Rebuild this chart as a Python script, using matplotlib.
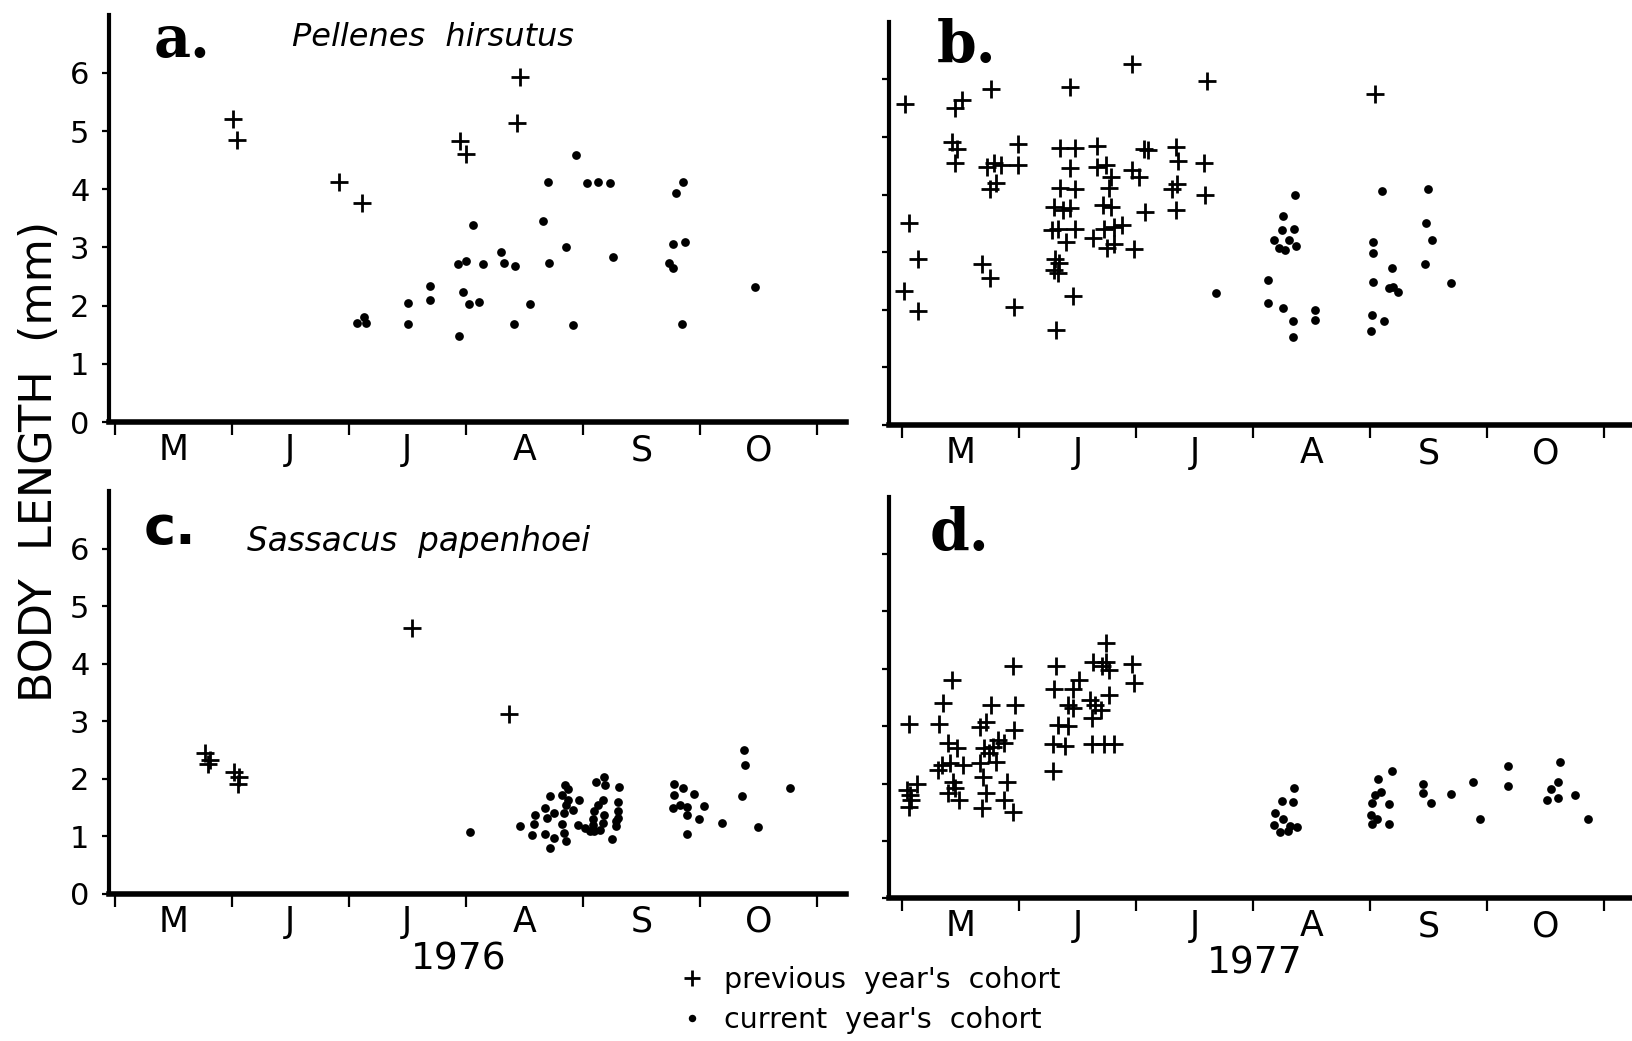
import matplotlib
matplotlib.use('Agg')
import matplotlib.pyplot as plt

# ---------------- data (x = months after 1 May; y = body length, mm) ----------------
months = ['M', 'J', 'J', 'A', 'S', 'O']
years = ['1976', '1977']
species = ['Pellenes  hirsutus', 'Sassacus  papenhoei']
panel_letters = ['a.', 'b.', 'c.', 'd.']
legend_labels = ["previous  year's  cohort", "current  year's  cohort"]

# a. Pellenes hirsutus 1976
a_prev_x = [1.01, 1.04, 1.92, 2.11, 2.95, 3.00, 3.46, 3.44]
a_prev_y = [5.20, 4.84, 4.12, 3.76, 4.83, 4.61, 5.92, 5.14]
a_curr_x = [2.07, 2.13, 2.15, 2.51, 2.51, 2.69, 2.69, 2.94, 2.93, 3.00, 2.98, 3.03, 3.11,
            3.06, 3.15, 3.30, 3.33, 3.42, 3.41, 3.55, 3.66, 3.70, 3.71, 3.86, 3.94, 3.92,
            4.04, 4.13, 4.23, 4.26, 4.80, 4.86, 4.77, 4.87, 4.74, 4.77, 4.85, 5.47]
a_curr_y = [1.70, 1.81, 1.70, 2.04, 1.69, 2.34, 2.09, 1.47, 2.72, 2.77, 2.23, 2.02, 2.07,
            3.39, 2.72, 2.92, 2.74, 2.68, 1.68, 2.02, 3.45, 4.12, 2.74, 3.01, 4.59, 1.66,
            4.10, 4.12, 4.10, 2.84, 3.94, 4.12, 3.06, 3.09, 2.74, 2.64, 1.69, 2.32]

# b. Pellenes hirsutus 1977
b_prev_x = [0.03, 0.06, 0.14, 0.02, 0.14, 0.45, 0.51, 0.43, 0.47, 0.45, 0.76, 0.73, 0.79,
            0.85, 0.75, 0.80, 0.99, 0.99, 0.68, 0.75, 0.96, 1.44, 1.35, 1.48, 1.44, 1.35,
            1.48, 1.30, 1.38, 1.44, 1.33, 1.28, 1.48, 1.40, 1.31, 1.34, 1.30, 1.33, 1.46,
            1.32, 1.67, 1.67, 1.74, 1.79, 1.77, 1.72, 1.79, 1.73, 1.81, 1.88, 1.63, 1.75,
            1.81, 1.97, 2.07, 2.10, 1.97, 2.03, 2.08, 1.98, 2.61, 2.34, 2.36, 2.35, 2.31,
            2.34, 2.58, 2.59, 4.04]
b_prev_y = [5.58, 3.51, 2.88, 2.32, 1.98, 5.50, 5.65, 4.92, 4.80, 4.54, 5.84, 4.48, 4.54,
            4.51, 4.09, 4.20, 4.88, 4.51, 2.79, 2.55, 2.05, 5.86, 4.81, 4.81, 4.46, 4.12,
            4.09, 3.79, 3.73, 3.76, 3.41, 3.39, 3.40, 3.17, 2.89, 2.81, 2.69, 2.64, 2.24,
            1.65, 4.85, 4.48, 4.51, 4.31, 4.11, 3.82, 3.79, 3.41, 3.44, 3.47, 3.25, 3.07,
            3.15, 6.26, 4.80, 4.77, 4.43, 4.31, 3.70, 3.05, 5.97, 4.83, 4.59, 4.18, 4.09,
            3.74, 4.54, 3.99, 5.74]
b_curr_x = [2.68, 3.36, 3.26, 3.25, 3.35, 3.18, 3.31, 3.22, 3.27, 3.37, 3.13, 3.13, 3.26,
            3.34, 3.34, 3.53, 3.53, 4.10, 4.03, 4.03, 4.03, 4.19, 4.20, 4.16, 4.24, 4.02,
            4.12, 4.01, 4.50, 4.48, 4.53, 4.47, 4.69]
b_curr_y = [2.30, 3.99, 3.63, 3.39, 3.40, 3.22, 3.22, 3.07, 3.03, 3.10, 2.51, 2.11, 2.03,
            1.81, 1.53, 2.00, 1.83, 4.07, 3.17, 2.99, 2.49, 2.73, 2.40, 2.37, 2.31, 1.91,
            1.81, 1.63, 4.09, 3.51, 3.22, 2.80, 2.46]

# c. Sassacus papenhoei 1976
c_prev_x = [0.77, 0.81, 0.80, 1.02, 1.06, 1.05, 2.54, 3.37]
c_prev_y = [2.45, 2.33, 2.26, 2.11, 2.03, 1.91, 4.62, 3.13]
c_curr_x = [3.04, 3.46, 3.57, 3.59, 3.58, 3.68, 3.69, 3.68, 3.72, 3.75, 3.72, 3.75, 3.82,
            3.84, 3.86, 3.84, 3.82, 3.85, 3.87, 3.86, 3.92, 3.96, 3.97, 3.87, 4.02, 4.06,
            4.10, 4.09, 4.09, 4.10, 4.13, 4.11, 4.18, 4.17, 4.18, 4.17, 4.15, 4.19, 4.25,
            4.28, 4.30, 4.30, 4.30, 4.31, 4.28, 4.78, 4.86, 4.78, 4.95, 4.77, 4.83, 4.89,
            5.04, 4.89, 4.99, 4.89, 5.19, 5.38, 5.39, 5.36, 5.50, 5.77]
c_curr_y = [1.07, 1.17, 1.02, 1.37, 1.21, 1.49, 1.31, 1.03, 0.80, 0.97, 1.69, 1.40, 1.21,
            1.06, 0.91, 1.40, 1.71, 1.89, 1.82, 1.54, 1.46, 1.20, 1.63, 1.63, 1.14, 1.09,
            1.43, 1.29, 1.20, 1.09, 1.54, 1.94, 2.03, 1.63, 1.37, 1.23, 1.11, 1.89, 0.95,
            1.17, 1.60, 1.43, 1.31, 1.86, 1.26, 1.90, 1.84, 1.71, 1.74, 1.49, 1.54, 1.50,
            1.53, 1.37, 1.29, 1.03, 1.22, 2.50, 2.23, 1.70, 1.16, 1.84]

# d. Sassacus papenhoei 1977
d_prev_x = [0.06, 0.04, 0.06, 0.08, 0.13, 0.07, 0.32, 0.35, 0.43, 0.39, 0.47, 0.31, 0.34,
            0.41, 0.52, 0.44, 0.39, 0.45, 0.49, 0.76, 0.72, 0.67, 0.70, 0.74, 0.82, 0.78,
            0.87, 0.67, 0.80, 0.69, 0.72, 0.68, 0.90, 0.87, 0.95, 0.95, 0.97, 0.96, 1.32,
            1.30, 1.29, 1.33, 1.42, 1.29, 1.39, 1.46, 1.51, 1.42, 1.46, 1.61, 1.65, 1.62,
            1.70, 1.77, 1.63, 1.74, 1.74, 1.77, 1.71, 1.62, 1.73, 1.81, 1.97, 1.98]
d_prev_y = [3.04, 1.89, 1.59, 1.71, 2.00, 1.80, 3.04, 3.41, 3.80, 2.71, 2.61, 2.24, 2.32,
            2.35, 2.32, 2.03, 1.83, 1.92, 1.71, 3.37, 3.08, 2.99, 2.61, 2.53, 2.76, 2.64,
            2.70, 2.35, 2.38, 2.12, 1.83, 1.57, 2.03, 1.71, 1.51, 4.05, 3.37, 2.93, 4.05,
            3.65, 2.21, 3.02, 3.00, 2.68, 2.65, 3.64, 3.80, 3.37, 3.31, 3.46, 3.37, 3.14,
            3.28, 3.54, 4.11, 4.44, 4.11, 3.98, 4.04, 2.69, 2.69, 2.69, 4.09, 3.75]
d_curr_x = [3.35, 3.25, 3.34, 3.19, 3.26, 3.18, 3.23, 3.30, 3.32, 3.38, 4.07, 4.19, 4.09,
            4.04, 4.02, 4.16, 4.01, 4.06, 4.02, 4.16, 4.45, 4.45, 4.52, 4.69, 4.88, 4.94,
            5.18, 5.18, 5.62, 5.61, 5.55, 5.51, 5.61, 5.75, 5.86]
d_curr_y = [1.93, 1.70, 1.68, 1.48, 1.39, 1.28, 1.16, 1.18, 1.26, 1.25, 2.07, 2.21, 1.86,
            1.80, 1.66, 1.64, 1.45, 1.39, 1.30, 1.30, 2.00, 1.84, 1.66, 1.81, 2.03, 1.39,
            2.31, 1.95, 2.38, 2.03, 1.90, 1.72, 1.75, 1.80, 1.39]

# ---------------- figure ----------------
W, H = 1633, 1041
fig = plt.figure(figsize=(W / 100, H / 100), dpi=100)
plt.rcParams['font.family'] = ['DejaVu Sans']


def rect(l, b, r, t):
    return [l / W, 1 - b / H, (r - l) / W, (b - t) / H]


ax_a = fig.add_axes(rect(109, 422, 846, 14.6))
ax_b = fig.add_axes(rect(889, 425, 1633, 21.8))
ax_c = fig.add_axes(rect(109, 893.6, 846, 491))
ax_d = fig.add_axes(rect(889, 898.3, 1633, 496.5))


def style(ax, xlim, ylabels):
    ax.set_xlim(*xlim)
    ax.set_ylim(0, 7)
    for s in ['top', 'right']:
        ax.spines[s].set_visible(False)
    ax.spines['left'].set_linewidth(3.0)
    ax.spines['bottom'].set_linewidth(4.0)
    ax.set_yticks(range(7))
    ax.set_xticks(range(7))
    ax.set_xticklabels([])
    ax.set_xticks([m + 0.5 for m in range(6)], minor=True)
    ax.set_xticklabels(months, minor=True, fontsize=25)
    ax.tick_params(axis='x', which='major', direction='out', length=9, width=1.6)
    ax.tick_params(axis='x', which='minor', length=0, pad=8)
    ax.tick_params(axis='y', direction='out', length=5, width=1.6, labelsize=22, pad=9)
    if not ylabels:
        ax.set_yticklabels([])
    ax.patch.set_alpha(0)


style(ax_a, (-0.05, 6.25), True)
style(ax_c, (-0.05, 6.25), True)
style(ax_b, (-0.111, 6.248), False)
style(ax_d, (-0.111, 6.248), False)

PLUS = dict(marker='+', linestyle='none', color='black', ms=13, mew=2.0)
DOT = dict(marker='o', linestyle='none', color='black', ms=6.3, mew=0)

h_prev = ax_a.plot(a_prev_x, a_prev_y, **PLUS)[0]
h_curr = ax_a.plot(a_curr_x, a_curr_y, **DOT)[0]
ax_b.plot(b_prev_x, b_prev_y, **PLUS)
ax_b.plot(b_curr_x, b_curr_y, **DOT)
ax_c.plot(c_prev_x, c_prev_y, **PLUS)
ax_c.plot(c_curr_x, c_curr_y, **DOT)
ax_d.plot(d_prev_x, d_prev_y, **PLUS)
ax_d.plot(d_curr_x, d_curr_y, **DOT)

# texts
fig.text(40 / W, 1 - 461 / H, 'BODY  LENGTH  (mm)', rotation=90, ha='center', va='center',
         fontsize=32)
fig.text(292 / W, 1 - 38 / H, species[0], style='italic', fontsize=23, va='center')
fig.text(247 / W, 1 - 542 / H, species[1], style='italic', fontsize=23.5, va='center')

fig.text(154 / W, 1 - 57 / H, panel_letters[0], family='DejaVu Serif', weight='bold',
         fontsize=41, va='baseline')
fig.text(937 / W, 1 - 62 / H, panel_letters[1], family='DejaVu Serif', weight='bold',
         fontsize=41, va='baseline')
fig.text(144 / W, 1 - 544 / H, panel_letters[2], family='DejaVu Sans', weight='bold',
         fontsize=39, va='baseline')
fig.text(930 / W, 1 - 550 / H, panel_letters[3], family='DejaVu Serif', weight='bold',
         fontsize=41, va='baseline')

fig.text(459 / W, 1 - 960 / H, years[0], ha='center', va='center', fontsize=27)
fig.text(1255 / W, 1 - 964 / H, years[1], ha='center', va='center', fontsize=27)

fig.legend([h_prev, h_curr], legend_labels, loc='center left',
           bbox_to_anchor=(664 / W, 1 - 1000 / H), frameon=False, fontsize=20.5,
           handlelength=1.0, handletextpad=0.6, labelspacing=0.42, borderpad=0,
           markerscale=0.85)

fig.savefig('out.png', dpi=100)
